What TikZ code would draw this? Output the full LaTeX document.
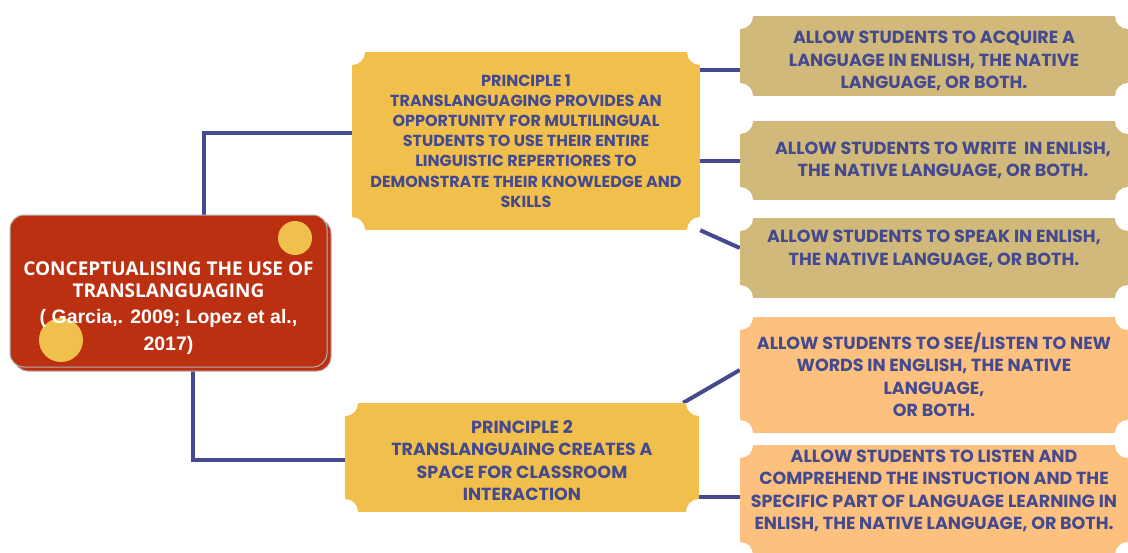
\documentclass[tikz,border=0pt]{standalone}
\usepackage{fontspec}
\setmainfont{Liberation Sans}
\newfontfamily\boxfont{Poppins}
\newfontfamily\titlefont{Open Sans}
\usepackage{xcolor}
\usetikzlibrary{positioning, shadows, backgrounds}

\definecolor{navy}{HTML}{454A8E}
\definecolor{brick}{HTML}{BC3012}
\definecolor{mustard}{HTML}{F0BF4C}
\definecolor{sand}{HTML}{D1B87B}
\definecolor{peach}{HTML}{FDC17F}
\definecolor{dot}{HTML}{F0C04D}

\begin{document}
\begin{tikzpicture}[
  x=1pt, y=-1pt,
  ticket/.style={fill=#1, text=navy, align=center, inner sep=0pt,
    font=\boxfont\bfseries\fontsize{17.5}{22.5}\selectfont,
    path picture={
      \foreach \c in {north west, north east, south west, south east}
        \fill[white] (path picture bounding box.\c) circle (13pt);}},
  link/.style={draw=navy, line width=4pt}
]
\useasboundingbox (0,0) rectangle (1128,552);

% main topic
\node[fill=brick, draw=gray!60, line width=1pt, rounded corners=14pt,
  minimum width=317pt, minimum height=152pt, inner sep=0pt,
  copy shadow={shadow xshift=4pt, shadow yshift=-4pt},
  text=white, align=center,
  font=\titlefont\bfseries\fontsize{19}{21}\selectfont,
  path picture={
    \fill[dot] ([shift={(-32pt,-23pt)}]path picture bounding box.north east) circle (17pt);
    \fill[dot] ([shift={(51pt,27pt)}]path picture bounding box.south west) circle (22pt);}
] (topic) at (168.5,291)
  {\rule{0pt}{48pt}CONCEPTUALISING THE USE OF\\[1pt]
   TRANSLANGUAGING\\[5pt]
   {\normalfont\bfseries\fontsize{19.5}{22}\selectfont ( Garcia,. 2009; Lopez et al.,}\\[6pt]
   {\normalfont\bfseries\fontsize{19.5}{22}\selectfont 2017)}};

% principles
\node[ticket=mustard, minimum width=348pt, minimum height=178pt,
  font=\boxfont\bfseries\fontsize{16}{20.2}\selectfont] (p1) at (526,141)
  {PRINCIPLE 1\\ TRANSLANGUAGING PROVIDES AN\\ OPPORTUNITY FOR MULTILINGUAL\\
   STUDENTS TO USE THEIR ENTIRE\\ LINGUISTIC REPERTIORES TO\\
   DEMONSTRATE THEIR KNOWLEDGE AND\\ SKILLS};
\node[ticket=mustard, minimum width=354pt, minimum height=109pt] (p2) at (522,457.5)
  {\rule{0pt}{19pt}PRINCIPLE 2\\ TRANSLANGUAING CREATES A\\ SPACE FOR CLASSROOM\\ INTERACTION};

% uses
\node[ticket=sand, minimum width=388pt, minimum height=80pt] (acquire) at (934,56)
  {\rule{0pt}{23pt}ALLOW STUDENTS TO ACQUIRE A\\ LANGUAGE IN ENLISH, THE NATIVE\\ LANGUAGE, OR BOTH.};
\node[ticket=sand, minimum width=388pt, minimum height=79pt] (write) at (934,160.5)
  {\hspace*{18pt}ALLOW STUDENTS TO WRITE\ \ IN ENLISH,\\ \hspace*{18pt}THE NATIVE LANGUAGE, OR BOTH.};
\node[ticket=sand, minimum width=388pt, minimum height=80pt] (speak) at (934,258)
  {ALLOW STUDENTS TO SPEAK IN ENLISH,\\ THE NATIVE LANGUAGE, OR BOTH.\rule[-20pt]{0pt}{20pt}};
\node[ticket=peach, minimum width=388pt, minimum height=116pt] (see) at (934,375)
  {\rule{0pt}{16pt}ALLOW STUDENTS TO SEE/LISTEN TO NEW\\ WORDS IN ENGLISH, THE NATIVE\\ LANGUAGE,\\ OR BOTH.};
\node[ticket=peach, minimum width=388pt, minimum height=110pt] (listen) at (934,500)
  {ALLOW STUDENTS TO LISTEN AND\\ COMPREHEND THE INSTUCTION AND THE\\
   SPECIFIC PART OF LANGUAGE LEARNING IN\\
   ENLISH, THE NATIVE LANGUAGE, OR BOTH.\rule[-20pt]{0pt}{20pt}};

% connectors
\begin{scope}[on background layer]
\draw[link] ([xshift=35pt]topic.north) |- ([yshift=8pt]p1.west);
\draw[link] ([xshift=24pt]topic.south) |- ([yshift=-2pt]p2.west);
\draw[link] ([yshift=-14pt]acquire.west) -- ([yshift=-14pt]acquire.west -| p1.east);
\draw[link] (write.west) -- (write.west -| p1.east);
\draw[link] ([yshift=10pt]speak.west) -- (p1.south east);
\draw[link] ([yshift=5pt]see.west) -- ([xshift=-16pt]p2.north east);
\draw[link] ([yshift=3pt]listen.west) -- ([yshift=3pt]listen.west -| p2.east);
\end{scope}
\end{tikzpicture}
\end{document}
